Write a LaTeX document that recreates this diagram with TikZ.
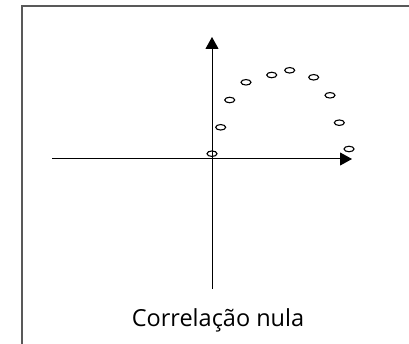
\documentclass[tikz,border=0pt]{standalone}
\usepackage{fontspec}
\setmainfont{Open Sans}
\usepackage{tikz}
\usetikzlibrary{shapes}
\usetikzlibrary{arrows.meta}
\usetikzlibrary{positioning}

\begin{document}
\begin{tikzpicture}[x=1pt, y=-1pt, axis/.style={line width=1pt, -{Triangle[length=12pt, width=13pt]}}, pt/.style={ellipse, draw, line width=1.1pt, minimum width=10pt, minimum height=5.5pt, inner sep=0pt}, caption/.style={font=\fontsize{23.5}{28}\selectfont, inner sep=0pt}, frame/.style={draw=black!65, line width=2pt}]
	  \useasboundingbox (0,0) rectangle (409,344);
	  \draw[frame] (22,344) -- (22,6) -- (409,6);
	  % axes
	  \coordinate (o) at (212,159);
	  \coordinate (ybot) at (212,289);
	  \coordinate (ytop) at (212,37);
	  \coordinate (xleft) at (52,159);
	  \coordinate (xright) at (352,159);
	  \draw[axis] (ybot) -- (ytop);
	  \draw[axis] (xleft) -- (xright);
	  % points
	  \node[pt] (p1) at (212,153.7) {};
	  \node[pt] (p2) at (220.7,127.3) {};
	  \node[pt] (p3) at (229.7,100) {};
	  \node[pt] (p4) at (246,82.3) {};
	  \node[pt] (p5) at (271.7,75) {};
	  \node[pt] (p6) at (289.7,70.3) {};
	  \node[pt] (p7) at (313.7,77.3) {};
	  \node[pt] (p8) at (330,95.3) {};
	  \node[pt] (p9) at (339.3,122.7) {};
	  \node[pt] (p10) at (349,149) {};
	  \node[caption, anchor=base] (title) at (218,326.7) {Correlação nula};
\end{tikzpicture}
\end{document}
